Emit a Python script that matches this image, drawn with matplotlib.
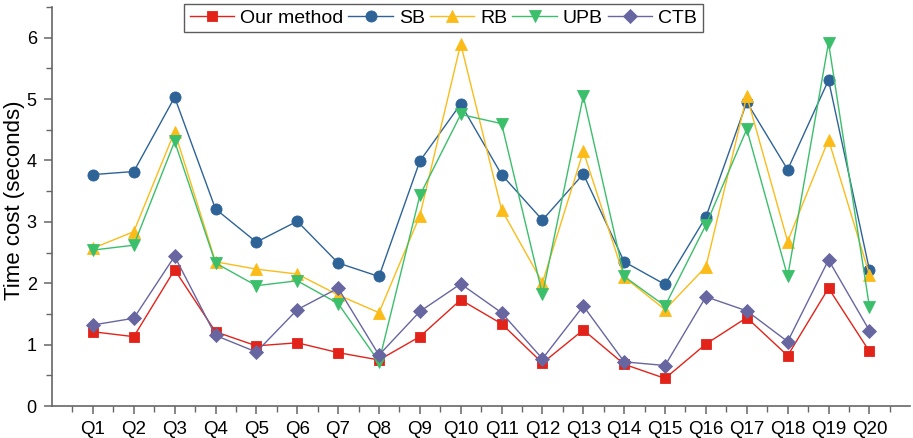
import numpy as np
import matplotlib
matplotlib.use('Agg')
import matplotlib.pyplot as plt
from matplotlib.ticker import MultipleLocator, FixedLocator

plt.rcParams['font.family'] = ['Liberation Sans', 'DejaVu Sans']

queries = ['Q%d' % i for i in range(1, 21)]
our_method = [1.21, 1.13, 2.22, 1.21, 0.98, 1.03, 0.87, 0.75, 1.13, 1.73,
              1.34, 0.70, 1.24, 0.68, 0.45, 1.01, 1.44, 0.82, 1.92, 0.89]
sb = [3.77, 3.82, 5.03, 3.21, 2.67, 3.01, 2.33, 2.11, 3.99, 4.92,
      3.77, 3.03, 3.78, 2.35, 1.98, 3.08, 4.95, 3.85, 5.31, 2.22]
rb = [2.57, 2.84, 4.47, 2.35, 2.23, 2.15, 1.81, 1.52, 3.10, 5.90,
      3.20, 2.01, 4.15, 2.10, 1.57, 2.27, 5.05, 2.68, 4.34, 2.14]
upb = [2.54, 2.62, 4.31, 2.33, 1.96, 2.04, 1.67, 0.72, 3.43, 4.75,
       4.60, 1.82, 5.05, 2.11, 1.63, 2.95, 4.51, 2.11, 5.92, 1.62]
ctb = [1.32, 1.43, 2.44, 1.15, 0.88, 1.57, 1.92, 0.83, 1.54, 1.99,
       1.52, 0.77, 1.63, 0.72, 0.66, 1.78, 1.55, 1.05, 2.38, 1.23]

series = [
    ('Our method', our_method, '#E2231A', 's', 7),
    ('SB', sb, '#2E6398', 'o', 8),
    ('RB', rb, '#FBBC1A', '^', 9),
    ('UPB', upb, '#3BBF6B', 'v', 9),
    ('CTB', ctb, '#6866A0', 'D', 7),
]

fig = plt.figure(figsize=(9.13, 4.38), dpi=100)
ax = fig.add_axes([0.057, 0.073, 0.940, 0.911])

x = np.arange(1, len(queries) + 1)
for name, vals, col, mk, ms in series:
    ax.plot(x, vals, color=col, marker=mk, markersize=ms, linewidth=1.0,
            markeredgecolor=col, markeredgewidth=0.6, label=name)

ax.set_xlim(0, 21)
ax.set_ylim(0, 6.5)
ax.set_xticks(x)
ax.set_xticklabels(queries)
ax.xaxis.set_minor_locator(FixedLocator(np.arange(0.5, 21, 1)))
ax.yaxis.set_major_locator(MultipleLocator(1))
ax.yaxis.set_minor_locator(MultipleLocator(0.5))

for side in ['top', 'right']:
    ax.spines[side].set_visible(False)
for side in ['left', 'bottom']:
    ax.spines[side].set_color('#666666')
    ax.spines[side].set_linewidth(1.2)

ax.tick_params(which='major', direction='out', length=6, width=1.1, color='#666666',
               labelsize=13, pad=5)
ax.tick_params(which='minor', direction='out', length=4, width=1.0, color='#666666')
ax.tick_params(axis='x', which='major', labelsize=13.5)
ax.set_ylabel('Time cost (seconds)', fontsize=16)
ax.yaxis.set_label_coords(-0.031, 0.515)

leg = ax.legend(loc='upper center', bbox_to_anchor=(0.456, 1.008), ncol=5, fontsize=14,
                frameon=True, fancybox=False, handlelength=2.3, handletextpad=0.3,
                columnspacing=0.25, borderpad=0.28, borderaxespad=0.0)
leg.get_frame().set_edgecolor('#333333')
leg.get_frame().set_linewidth(1.0)

fig.savefig('out.png', dpi=100)
